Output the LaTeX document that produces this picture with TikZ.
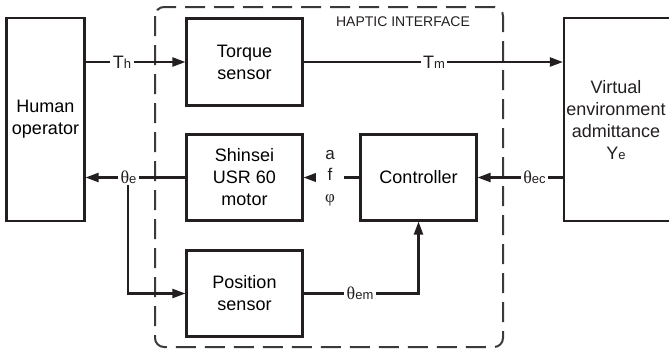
\documentclass[tikz,border=0pt]{standalone}
\usepackage{fontspec}
\setmainfont{Liberation Sans}
\newfontfamily\grk{Liberation Serif}
\usetikzlibrary{arrows.meta,calc}
\definecolor{ink}{HTML}{231F20}
\definecolor{dashc}{HTML}{3A3A3A}
\newcommand{\bigtxt}{\fontsize{18}{22}\selectfont}
\newcommand{\sub}[1]{{\fontsize{13}{13}\selectfont #1}}
\newcommand{\thet}{{\grk\fontsize{18}{18}\selectfont θ}}
\newcommand{\tq}[1]{{\fontsize{18}{18}\selectfont T}\sub{#1}}
\begin{document}
\begin{tikzpicture}[x=1pt,y=-1pt,
  blk/.style={draw=ink,line width=2.1pt,rectangle,inner sep=0pt,align=center,font=\bigtxt},
  conn/.style={draw=ink,line width=2.1pt},
  arr/.style={conn,-{Triangle[length=13pt,width=9pt]}},
  lbl/.style={fill=white,inner xsep=3pt,inner ysep=1pt,text=ink},
  border/.style={draw=dashc,line width=2pt,dash pattern=on 20pt off 9pt,rounded corners=9pt}]
\useasboundingbox (0,0) rectangle (669,354);
% haptic interface border
\draw[border] (155,7) rectangle (503,347);
\node[text=ink,font=\fontsize{14}{14}\selectfont] (hi) at (403,22) {HAPTIC INTERFACE};
% blocks
\node[blk,minimum width=78pt,minimum height=203pt] (human) at (45.5,119.5) {Human\\operator};
\node[blk,minimum width=116pt,minimum height=87pt] (torque) at (244.5,62) {Torque\\sensor};
\node[blk,minimum width=116pt,minimum height=86pt] (motor) at (244.5,177.5) {Shinsei\\USR 60\\motor};
\node[blk,minimum width=116pt,minimum height=86pt] (pos) at (244.5,293.5) {Position\\sensor};
\node[blk,minimum width=116pt,minimum height=86pt] (ctrl) at (418.5,177.5) {Controller};
\node[blk,minimum width=107pt,minimum height=203pt,text width=105pt] (ve) at (617.5,119.5) {};
\node[align=center,font=\bigtxt,text=ink] (vetext) at (616,120) {Virtual\\environment\\admittance\\Y\sub{e}};
% connectors
\draw[arr] (human.east |- torque.west) -- (torque.west);
\draw[arr] (torque.east) -- (ve.west |- torque.east);
\draw[arr] (motor.west) -- (human.east |- motor.west);
\draw[arr] (ctrl.west) -- (motor.east);
\draw[arr] (ve.west |- ctrl.east) -- (ctrl.east);
\draw[arr] (pos.east) -| (ctrl.south);
% labels
\node[lbl,inner xsep=2.5pt] (th) at (122,62) {\tq{h}};
\node[lbl,inner xsep=2.5pt] (tm) at (434,62) {\tq{m}};
\node[lbl,inner xsep=2.5pt] (te) at (128.5,177.5) {\thet\sub{e}};
\node[lbl,inner xsep=2.5pt] (tec) at (534.5,177.5) {\thet\sub{ec}};
\node[lbl,inner xsep=2.5pt] (tem) at (360,293.5) {\thet\sub{em}};
\node[lbl,inner xsep=9pt,align=center,font=\fontsize{17}{21.5}\selectfont] (afp) at (330,178) {a\\f\\{\grk φ}};
\coordinate (br) at (128,293.5);
\draw[arr] (te.south -| br) -- (br) -- (pos.west);
\end{tikzpicture}
\end{document}
